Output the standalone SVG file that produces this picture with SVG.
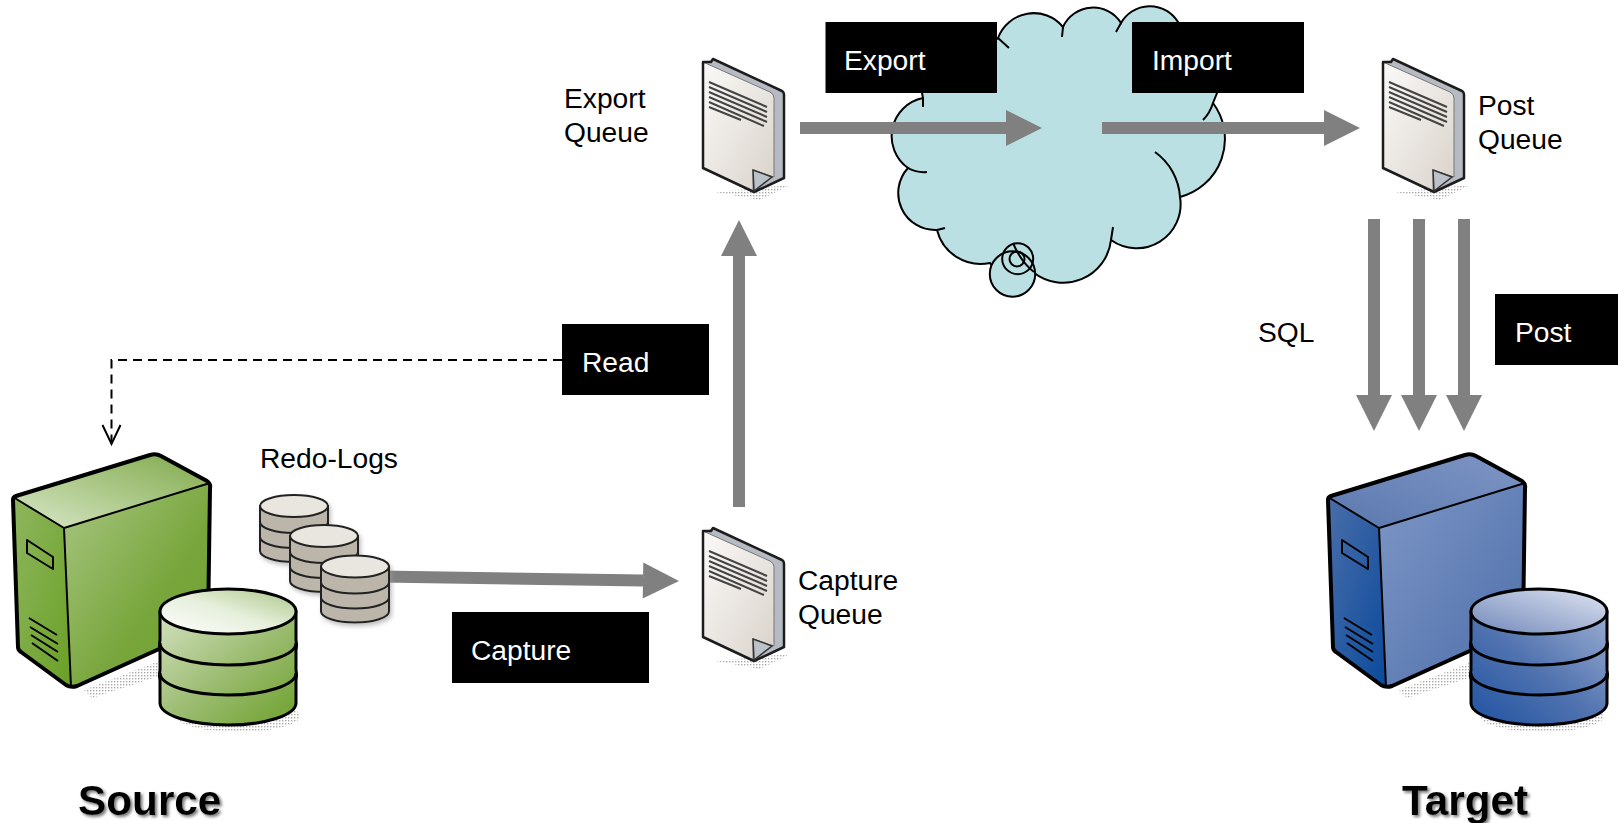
<svg xmlns="http://www.w3.org/2000/svg" xmlns:xlink="http://www.w3.org/1999/xlink" width="1618" height="823" viewBox="0 0 1618 823">
<style>
text{font-family:"Liberation Sans",Arial,sans-serif;font-size:28.2px;fill:#000}
.box{fill:#000}
.w{fill:#fff}
.big{font-weight:700;font-size:42.3px;filter:url(#ts)}
.outline{stroke:#000;stroke-width:4;stroke-linejoin:round;fill:none}
.thin{stroke:#000;stroke-width:2;stroke-linejoin:round;fill:none}
.cyl{stroke:#000;stroke-width:3}
.small{stroke:#222;stroke-width:2;fill:#bcb5aa}
.smalltop{stroke:#222;stroke-width:2;fill:#e9e6e0}
.flow{stroke:#808080;stroke-width:12;fill:none;marker-end:url(#head)}
.dash{stroke:#000;stroke-width:2;fill:none;stroke-dasharray:9 6}
.cloudline{stroke:#000;stroke-width:2;fill:none}
</style>
<defs>
<filter id="ts" x="-10%" y="-20%" width="125%" height="150%"><feDropShadow dx="2" dy="2" stdDeviation="1.5" flood-color="#777"/></filter>
<filter id="soft" x="-20%" y="-20%" width="140%" height="140%"><feDropShadow dx="2" dy="3" stdDeviation="2" flood-color="#999" flood-opacity=".6"/></filter>
<marker id="head" markerUnits="userSpaceOnUse" markerWidth="36" markerHeight="36" refX="0" refY="18" orient="auto" overflow="visible"><path d="M0 0L36 18L0 36Z" fill="#808080"/></marker>
<marker id="vee" markerUnits="userSpaceOnUse" markerWidth="22" markerHeight="22" refX="11" refY="19" orient="0" overflow="visible"><path d="M2 0L11 19L20 0" fill="none" stroke="#000" stroke-width="2"/></marker>
<pattern id="dots" width="3" height="3" patternUnits="userSpaceOnUse"><rect width="1.4" height="1.4" fill="#aaa"/></pattern>
<linearGradient id="gTop" x1="0" y1="1" x2="1" y2="0"><stop offset="0" stop-color="#d9e7cb"/><stop offset=".45" stop-color="#b0cb8e"/><stop offset="1" stop-color="#7fa94a"/></linearGradient>
<linearGradient id="gFront" x1="0" y1="0" x2="1" y2="1"><stop offset="0" stop-color="#a9c683"/><stop offset=".6" stop-color="#78a63c"/><stop offset="1" stop-color="#6f9f2f"/></linearGradient>
<linearGradient id="gLeft" x1="0" y1="0" x2="1" y2="1"><stop offset="0" stop-color="#8fb65e"/><stop offset="1" stop-color="#69a026"/></linearGradient>
<linearGradient id="gDbTop" x1="0" y1="1" x2="1" y2="0"><stop offset="0" stop-color="#fff"/><stop offset=".5" stop-color="#e6efdc"/><stop offset="1" stop-color="#a9c585"/></linearGradient>
<linearGradient id="gDbBody" x1="0" y1="0" x2="1" y2="1"><stop offset="0" stop-color="#d3e1c0"/><stop offset=".5" stop-color="#9dbd73"/><stop offset="1" stop-color="#6da02c"/></linearGradient>
<linearGradient id="bTop" x1="0" y1="1" x2="1" y2="0"><stop offset="0" stop-color="#5a78ae"/><stop offset="1" stop-color="#7f96c6"/></linearGradient>
<linearGradient id="bFront" x1="0" y1="0" x2="1" y2="1"><stop offset="0" stop-color="#7e96c6"/><stop offset="1" stop-color="#4c6ea9"/></linearGradient>
<linearGradient id="bLeft" x1="0" y1="0" x2="1" y2="1"><stop offset="0" stop-color="#4a6ea9"/><stop offset="1" stop-color="#0b4a9c"/></linearGradient>
<linearGradient id="bDbTop" x1="0" y1="1" x2="1" y2="0"><stop offset="0" stop-color="#7088ba"/><stop offset="1" stop-color="#dfe4f1"/></linearGradient>
<linearGradient id="bDbBody" x1="1" y1="0" x2="0" y2="1"><stop offset="0" stop-color="#9badd2"/><stop offset=".5" stop-color="#5274b0"/><stop offset="1" stop-color="#1f52a2"/></linearGradient>
<linearGradient id="page" x1="0" y1="0" x2="1" y2="1"><stop offset="0" stop-color="#fbfaf8"/><stop offset="1" stop-color="#d9d2ca"/></linearGradient>
<path id="srvLeft" d="M13 497L64 528L71 687L18 650Z"/>
<path id="srvFront" d="M64 528L210 483L208 627L71 687Z"/>
<path id="srvTop" d="M13 497L155 454L210 483L64 528Z"/>
<g id="srvDetail">
<g class="thin">
<path d="M27 540L53 557V569L27 553Z"/>
<path d="M29 618L57 635M30 627L58 644M31 635L58 652M32 643L58 661"/>
<path d="M64 528L71 687M64 528L210 483M13 497L64 528"/>
</g>
<path class="outline" d="M13 500Q13 497 16 496L150 455Q156 453 161 456L207 481Q211 484 210 488L208 627L77 686Q71 688 66 685L21 652Q18 650 18 647Z"/>
</g>
<path id="dbBody" class="cyl" d="M160 612V640Q159 645 160 650V670Q159 675 160 680V703A68 22 0 0 0 296 703V680Q297 675 296 670V650Q297 645 296 640V612Z"/>
<ellipse id="dbTop" class="cyl" cx="228" cy="611.500" rx="68" ry="22.500"/>
<path id="dbLines" class="cyl" fill="none" d="M160 643A68 22 0 0 0 296 643M160 673A68 22 0 0 0 296 673"/>
<ellipse id="dbShadow" cx="238" cy="716" rx="62" ry="16" fill="url(#dots)"/>
<path id="srvShadow" d="M84 690L162 660L166 674L92 698Z" fill="url(#dots)"/>
<g id="cyl">
<path class="small" d="M0 0V45A34 11 0 0 0 68 45V0Z"/>
<path d="M0 16A34 11 0 0 0 68 16M0 31A34 11 0 0 0 68 31" fill="none" stroke="#222" stroke-width="2"/>
<ellipse class="smalltop" cx="34" cy="0" rx="34" ry="11"/>
</g>
<g id="doc">
<path d="M715 192L790 185L760 200Z" fill="url(#dots)"/>
<path d="M703 62L712 60L782 91Q784 92 784 95V178L754 192L703 168Z" fill="#b6bbc3"/>
<path d="M703 62L770 92Q774 94 774 98V177L753 170V191L703 168Z" fill="url(#page)" stroke="#777" stroke-width="1"/>
<path d="M703 62L711 62L713 59L782 91Q784 92 784 95V178L754 192L703 168Z" fill="none" stroke="#1c1c1c" stroke-width="2.500" stroke-linejoin="round"/>
<path d="M753 170L772 177L754 191Z" fill="#bcc2ca" stroke="#333" stroke-width="1.500"/>
<path d="M709 82L767 107M709 87L767 112M709 92L767 117M709 97L767 122M709 102L764 126M709 107L741 120" stroke="#444" stroke-width="2" fill="none"/>
</g>
</defs>

<g id="cloud">
<path fill="#bae0e3" stroke="#000" stroke-width="2" d="M998 38A38 38 0 0 1 1063 27A33 33 0 0 1 1121 23A33 33 0 0 1 1178 22L1217 93L1213 103A60 60 0 0 1 1180 197A44 44 0 0 1 1111 240A48 48 0 0 1 1033 272A30 30 0 0 1 990 263A45 45 0 0 1 937 230A37 37 0 0 1 908 168A39 39 0 0 1 923 98L922 93Z"/>
<path class="cloudline" d="M998 38L1009 48M1063 27L1062 37M1121 23L1116 32M1213 103Q1210 113 1203 120M908 168Q917 173 927 172M937 230L945 228M923 98L923 107M1111 240L1113 227M1155 152A60 60 0 0 1 1180 197"/>
<circle cx="1012.500" cy="274" r="22.700" fill="#bae0e3" stroke="#000" stroke-width="2"/>
<circle cx="1017.700" cy="258.700" r="15.500" fill="none" stroke="#000" stroke-width="2"/>
<circle cx="1017" cy="259" r="7.500" fill="none" stroke="#000" stroke-width="2"/>
<path class="cloudline" d="M1013 243Q1021 262 1034 272"/>
</g>

<g id="connectors">
<path class="flow" d="M800 128H1006"/>
<path class="flow" d="M1102 128H1324"/>
<path class="flow" d="M739 507V256"/>
<path class="flow" d="M380 576.500L643 580.500"/>
<path class="flow" d="M1374 219V395"/>
<path class="flow" d="M1419 219V395"/>
<path class="flow" d="M1464 219V395"/>
<path class="dash" d="M562 360H111.500V444" marker-end="url(#vee)"/>
</g>

<g id="source-server">
<use href="#srvShadow"/>
<use href="#srvLeft" fill="url(#gLeft)"/>
<use href="#srvFront" fill="url(#gFront)"/>
<use href="#srvTop" fill="url(#gTop)"/>
<use href="#srvDetail"/>
<use href="#dbShadow"/>
<use href="#dbBody" fill="url(#gDbBody)"/>
<use href="#dbLines"/>
<use href="#dbTop" fill="url(#gDbTop)"/>
</g>
<g id="target-server">
<use href="#srvShadow" x="1315"/>
<use href="#srvLeft" x="1315" fill="url(#bLeft)"/>
<use href="#srvFront" x="1315" fill="url(#bFront)"/>
<use href="#srvTop" x="1315" fill="url(#bTop)"/>
<use href="#srvDetail" x="1315"/>
<use href="#dbShadow" x="1304"/>
<use href="#dbBody" x="1311" fill="url(#bDbBody)"/>
<use href="#dbLines" x="1311"/>
<use href="#dbTop" x="1311" fill="url(#bDbTop)"/>
</g>

<g id="redo-logs" filter="url(#soft)">
<use href="#cyl" x="260" y="506"/>
<use href="#cyl" x="290" y="536"/>
<use href="#cyl" x="321" y="566.500"/>
</g>
<g id="redo-label"><text x="260" y="468">Redo-Logs</text></g>

<g id="export-queue"><use href="#doc"/><text x="564" y="107.500">Export</text><text x="564" y="141.500">Queue</text></g>
<g id="post-queue"><use href="#doc" x="680"/><text x="1478" y="114.500">Post</text><text x="1478" y="148.500">Queue</text></g>
<g id="capture-queue"><use href="#doc" y="469"/><text x="798" y="590">Capture</text><text x="798" y="624">Queue</text></g>

<g id="export-box"><rect class="box" x="825.500" y="22" width="171.500" height="71"/><text class="w" x="844" y="70">Export</text></g>
<g id="import-box"><rect class="box" x="1132" y="22" width="172" height="71"/><text class="w" x="1152" y="70">Import</text></g>
<g id="read-box"><rect class="box" x="562" y="324" width="147" height="71"/><text class="w" x="582" y="372">Read</text></g>
<g id="capture-box"><rect class="box" x="452" y="612" width="197" height="71"/><text class="w" x="471" y="660">Capture</text></g>
<g id="post-box"><rect class="box" x="1495" y="294" width="123" height="71"/><text class="w" x="1515" y="342">Post</text></g>
<g id="sql-label"><text x="1258" y="342">SQL</text></g>
<g id="source-label"><text class="big" x="78" y="815">Source</text></g>
<g id="target-label"><text class="big" x="1402" y="815">Target</text></g>
</svg>
